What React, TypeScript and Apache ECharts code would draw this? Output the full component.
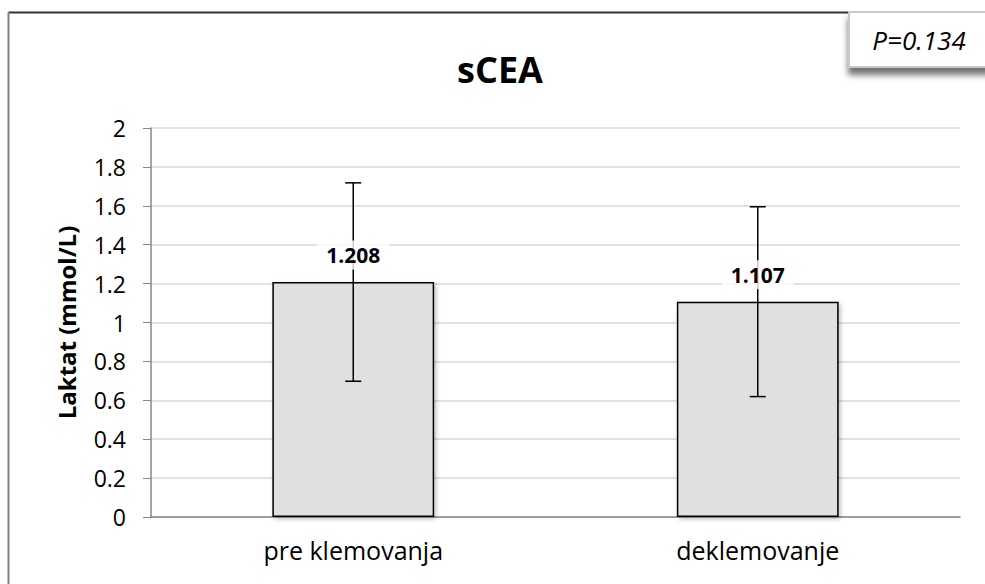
import React, { useEffect, useRef } from "react";
import * as echarts from "echarts";

const categories = ["pre klemovanja", "deklemovanje"];
const means = [1.208, 1.107];
const sds = [0.51, 0.488];
const yTicks = { min: 0, max: 2, interval: 0.2 };
const titleText = "sCEA";
const yAxisName = "Laktat (mmol/L)";
const pText = "P=0.134";

const FONT = "'Open Sans', sans-serif";

export default function App() {
  const ref = useRef<HTMLDivElement>(null);
  useEffect(() => {
    if (!ref.current) return;
    const chart = echarts.init(ref.current, null, { renderer: "svg" });
    const errData = means.map((m, i) => [i, m - sds[i], m + sds[i]]);
    const labelData = means.map((m, i) => [i, m]);
    chart.setOption({
      animation: false,
      textStyle: { fontFamily: FONT },
      grid: { left: 151, right: 25, top: 128, bottom: 67 },
      xAxis: {
        type: "category",
        data: categories,
        axisTick: { show: false },
        axisLine: { lineStyle: { color: "#868686", width: 1.5 } },
        axisLabel: { color: "#000", fontSize: 25, margin: 20, fontFamily: FONT },
      },
      yAxis: {
        type: "value",
        min: yTicks.min,
        max: yTicks.max,
        interval: yTicks.interval,
        name: yAxisName,
        nameLocation: "middle",
        nameRotate: 90,
        nameGap: 73,
        nameTextStyle: { color: "#000", fontSize: 24, fontWeight: "bold", fontFamily: FONT },
        axisLine: { show: true, lineStyle: { color: "#868686", width: 1.5 } },
        axisTick: { show: true, length: 8, lineStyle: { color: "#868686" } },
        axisLabel: {
          color: "#000",
          fontSize: 23,
          margin: 25,
          fontFamily: FONT,
          formatter: (v: number) => String(+v.toFixed(1)),
        },
        splitLine: { lineStyle: { color: "#d9d9d9", width: 1.5 } },
      },
      series: [
        {
          type: "bar",
          data: means,
          barWidth: "40%",
          z: 2,
          itemStyle: {
            color: "#e0e0e0",
            borderColor: "#000",
            borderWidth: 1.5,
            shadowColor: "rgba(0,0,0,0.25)",
            shadowBlur: 4,
            shadowOffsetX: 2,
            shadowOffsetY: 2,
          },
        },
        {
          type: "custom",
          z: 3,
          data: errData,
          renderItem: (params: any, api: any) => {
            const x = api.coord([api.value(0), 0])[0];
            const lo = api.coord([api.value(0), api.value(1)])[1];
            const hi = api.coord([api.value(0), api.value(2)])[1];
            const cap = 8;
            const st = { stroke: "#000", lineWidth: 1.5 };
            return {
              type: "group",
              children: [
                { type: "line", shape: { x1: x, y1: hi, x2: x, y2: lo }, style: st },
                { type: "line", shape: { x1: x - cap, y1: hi, x2: x + cap, y2: hi }, style: st },
                { type: "line", shape: { x1: x - cap, y1: lo, x2: x + cap, y2: lo }, style: st },
              ],
            };
          },
        },
        {
          type: "custom",
          z: 4,
          data: labelData,
          renderItem: (params: any, api: any) => {
            const p = api.coord([api.value(0), api.value(1)]);
            return {
              type: "text",
              x: p[0],
              y: p[1] - 27,
              style: {
                text: means[params.dataIndex].toFixed(3),
                fontFamily: FONT,
                fontSize: 21,
                fontWeight: "bold",
                fill: "#000",
                align: "center",
                verticalAlign: "middle",
                backgroundColor: "rgba(255,255,255,0.8)",
                padding: [4, 9],
              },
            };
          },
        },
      ],
      graphic: [
        { type: "line", shape: { x1: 8.5, y1: 12.5, x2: 985, y2: 12.5 }, style: { stroke: "#333", lineWidth: 2 }, z: 10 },
        { type: "line", shape: { x1: 8.5, y1: 12.5, x2: 8.5, y2: 584 }, style: { stroke: "#808080", lineWidth: 2 }, z: 10 },
        {
          type: "text",
          x: 500,
          y: 69,
          style: {
            text: titleText,
            fontFamily: FONT,
            fontSize: 36,
            fontWeight: "bold",
            fill: "#000",
            align: "center",
            verticalAlign: "middle",
          },
        },
        {
          type: "rect",
          z: 20,
          shape: { x: 849, y: 12, width: 145, height: 55 },
          style: {
            fill: "#fff",
            stroke: "#c8c8c8",
            lineWidth: 2,
            shadowColor: "rgba(0,0,0,0.55)",
            shadowBlur: 6,
            shadowOffsetY: 7,
            shadowOffsetX: 0,
          },
        },
        {
          type: "text",
          z: 21,
          x: 919,
          y: 40,
          style: {
            text: pText,
            fontFamily: FONT,
            fontSize: 26,
            fontStyle: "italic",
            fill: "#000",
            align: "center",
            verticalAlign: "middle",
          },
        },
      ],
    });
    return () => chart.dispose();
  }, []);
  return (
    <div
      ref={ref}
      style={{ position: "absolute", left: 0, top: 0, width: 985, height: 584, background: "#fff" }}
    />
  );
}
